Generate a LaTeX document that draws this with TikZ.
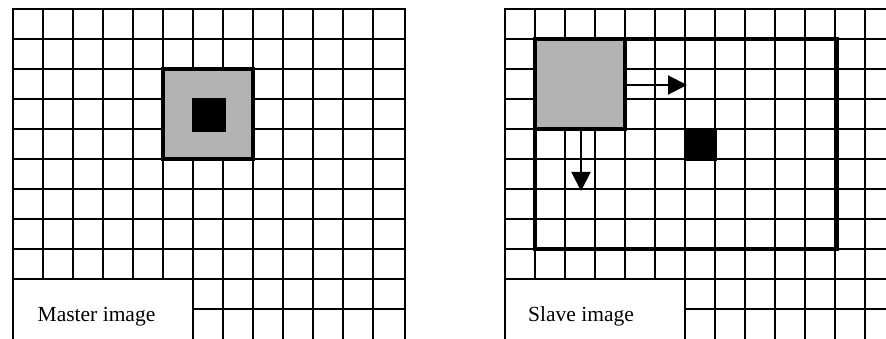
\documentclass[tikz,border=0pt]{standalone}
\usepackage{fontspec}
\setmainfont{Liberation Serif}
\usetikzlibrary{arrows.meta}
\definecolor{boxgray}{RGB}{179,179,179}
\begin{document}
\begin{tikzpicture}[x=1pt,y=-1pt,
  gridline/.style={line width=2pt,line cap=rect},
  heavy/.style={line width=4pt,line cap=rect},
  graybox/.style={fill=boxgray,draw=black,line width=4pt,line cap=rect},
  blackbox/.style={fill=black},
  movearrow/.style={line width=2pt,-{Triangle[length=19pt,width=19pt]}},
  lbl/.style={anchor=base west,inner sep=0pt,font=\fontsize{21.5}{26}\selectfont}]
\useasboundingbox (0,0) rectangle (886,339);
\clip (0,0) rectangle (886,339);
% ---------- master grid ----------
\foreach \y in {9,39,...,279} \draw[gridline] (13,\y) -- (405,\y);
\draw[gridline] (193,309) -- (405,309);
\draw[gridline] (13,9) -- (13,345);
\foreach \x in {43,73,...,163} \draw[gridline] (\x,9) -- (\x,279);
\foreach \x in {193,223,...,373} \draw[gridline] (\x,9) -- (\x,345);
\draw[gridline] (405,9) -- (405,345);
\draw[graybox] (163,69) rectangle (253,159);
\fill[blackbox] (192,98) rectangle (226,132);
\node[lbl] (mlabel) at (37.5,321.5) {Master image};
% ---------- slave grid ----------
\foreach \y in {9,39,...,279} \draw[gridline] (505,\y) -- (900,\y);
\draw[gridline] (685,309) -- (900,309);
\draw[gridline] (505,9) -- (505,345);
\foreach \x in {535,565,...,655} \draw[gridline] (\x,9) -- (\x,279);
\foreach \x in {685,715,...,865} \draw[gridline] (\x,9) -- (\x,345);
\draw[heavy] (535,39) rectangle (837,249);
\draw[graybox] (535,39) rectangle (625,129);
\fill[blackbox] (685,129) rectangle (717,161);
\coordinate (gE) at (624,85);
\coordinate (tipR) at (687,85);
\coordinate (gS) at (581,128);
\coordinate (tipD) at (581,191);
\draw[movearrow] (gE) -- (tipR);
\draw[movearrow] (gS) -- (tipD);
\node[lbl] (slabel) at (528,321.5) {Slave image};
\end{tikzpicture}
\end{document}
